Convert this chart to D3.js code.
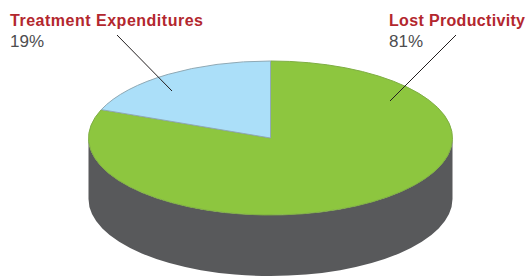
<!DOCTYPE html>
<html>
<head>
<meta charset="utf-8">
<script src="https://cdn.jsdelivr.net/npm/d3@7"></script>
<style>
  html, body { margin: 0; padding: 0; background: #fff; }
  svg { display: block; font-family: "Liberation Sans", Arial, sans-serif; }
</style>
</head>
<body>
<div id="chart"></div>
<script>
(function () {
    // данные
    const categories = ["Lost Productivity", "Treatment Expenditures"];
    const values = [81, 19];
    const valueLabels = ["81%", "19%"];
    const colors = ["#8dc63f", "#abdff9"];

    const width = 526;
    const height = 277;

    const cx = 270.5, cy = 138;
    const rx = 182, ry = 77;
    const depth = 61;

    const svg = d3.select("#chart")
        .append("svg")
        .attr("width", width)
        .attr("height", height);

    const pie = d3.pie().sort(null).value(d => d)(values);

    // боковая стенка (передняя половина цилиндра)
    const side = "M" + (cx - rx) + "," + cy +
        " L" + (cx - rx) + "," + (cy + depth) +
        " A" + rx + "," + ry + " 0 0 0 " + (cx + rx) + "," + (cy + depth) +
        " L" + (cx + rx) + "," + cy +
        " A" + rx + "," + ry + " 0 0 1 " + (cx - rx) + "," + cy + " Z";
    svg.append("path")
        .attr("d", side)
        .attr("fill", "#58595b");

    const arc = d3.arc().innerRadius(0).outerRadius(rx);

    const top = svg.append("g")
        .attr("transform", "translate(" + cx + "," + cy + ") scale(1," + (ry / rx) + ")");

    top.selectAll("path")
        .data(pie)
        .enter().append("path")
        .attr("d", arc)
        .attr("fill", (d, i) => colors[i])
        .attr("stroke", (d, i) => i === 1 ? "#8fa9b5" : "#7fae44")
        .attr("stroke-width", 1)
        .attr("vector-effect", "non-scaling-stroke");

    // подписи
    const labelPos = [
        { x: 389, y: 26, w: 136, lx1: 456, ly1: 35, lx2: 390, ly2: 101 },
        { x: 10, y: 26, w: 193, lx1: 117, ly1: 35, lx2: 172, ly2: 91 }
    ];

    categories.forEach(function (c, i) {
        const p = labelPos[i];
        svg.append("line")
            .attr("x1", p.lx1).attr("y1", p.ly1)
            .attr("x2", p.lx2).attr("y2", p.ly2)
            .attr("stroke", "#231f20")
            .attr("stroke-width", 1);
        svg.append("text")
            .attr("x", p.x)
            .attr("y", p.y)
            .text(c)
            .attr("font-size", "16px")
            .attr("font-weight", "bold")
            .attr("textLength", p.w)
            .attr("lengthAdjust", "spacing")
            .attr("fill", "#b3272e");
        svg.append("text")
            .attr("x", p.x)
            .attr("y", p.y + 21)
            .text(valueLabels[i])
            .attr("font-size", "17px")
            .attr("fill", "#4d4d4f");
    });
})();
</script>
</body>
</html>
